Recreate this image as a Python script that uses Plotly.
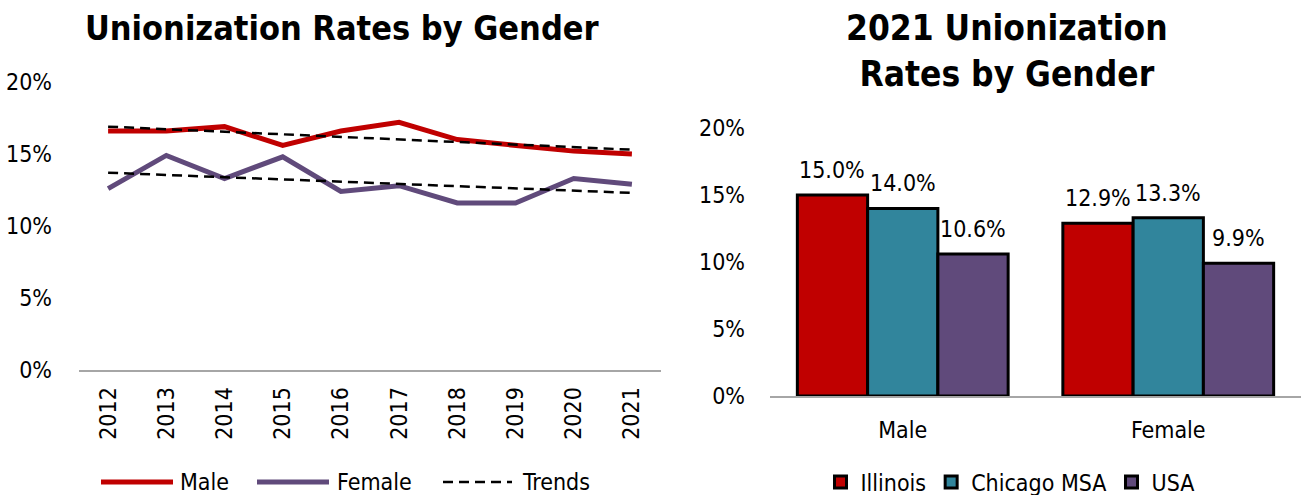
import plotly.graph_objects as go

# ---- data ----
years = ["2012", "2013", "2014", "2015", "2016", "2017", "2018", "2019", "2020", "2021"]
male_rate = [16.6, 16.6, 16.9, 15.6, 16.6, 17.2, 16.0, 15.6, 15.2, 15.0]
female_rate = [12.6, 14.9, 13.3, 14.8, 12.4, 12.8, 11.6, 11.6, 13.3, 12.9]
trend_years = ["2012", "2021"]
male_trend = [16.9, 15.3]
female_trend = [13.7, 12.3]

genders = ["Male", "Female"]
illinois = [15.0, 12.9]
chicago = [14.0, 13.3]
usa = [10.6, 9.9]

y_ticks = [0, 5, 10, 15, 20]
y_tick_text = ["0%", "5%", "10%", "15%", "20%"]

# ---- style ----
FONT = "Tahoma, 'DejaVu Sans Condensed', 'DejaVu Sans', sans-serif"
RED = "#C00000"
PURPLE = "#604A7B"
TEAL = "#31859C"
W, H = 1301, 495
TICK_SIZE = 23
BARGAP = 0.206
TREND_DASH = "10px,6px"
TREND_W = 2.5


def px_x(p):
    return p / W


def px_y(p):
    return 1 - p / H


fig = go.Figure()

fig.add_trace(go.Scatter(x=years, y=male_rate, mode="lines", name="Male",
                         line=dict(color=RED, width=5), showlegend=False,
                         xaxis="x", yaxis="y"))
fig.add_trace(go.Scatter(x=years, y=female_rate, mode="lines", name="Female",
                         line=dict(color=PURPLE, width=5), showlegend=False,
                         xaxis="x", yaxis="y"))
fig.add_trace(go.Scatter(x=trend_years, y=male_trend, mode="lines", name="Trends",
                         line=dict(color="black", width=TREND_W, dash=TREND_DASH), showlegend=False,
                         xaxis="x", yaxis="y"))
fig.add_trace(go.Scatter(x=trend_years, y=female_trend, mode="lines", name="Trends",
                         line=dict(color="black", width=TREND_W, dash=TREND_DASH), showlegend=False,
                         xaxis="x", yaxis="y"))

bar_series = [("Illinois", illinois, RED), ("Chicago MSA", chicago, TEAL), ("USA", usa, PURPLE)]
annotations = []
n_series = len(bar_series)
bar_w = (1 - BARGAP) / n_series
for k, (name, vals, col) in enumerate(bar_series):
    fig.add_trace(go.Bar(x=genders, y=vals, name=name,
                         marker=dict(color=col, line=dict(color="black", width=3)),
                         legend="legend2", xaxis="x2", yaxis="y2"))
    offset = (k - (n_series - 1) / 2) * bar_w
    for i, v in enumerate(vals):
        annotations.append(dict(text=f"{v:.1f}%", x=i + offset, y=v, xref="x2", yref="y2",
                                xanchor="center", yanchor="bottom", yshift=10, showarrow=False,
                                font=dict(size=TICK_SIZE, family=FONT, color="black")))

# titles
annotations += [
    dict(text="<b>Unionization Rates by Gender</b>", x=px_x(343), y=px_y(28), xref="paper", yref="paper",
         xanchor="center", yanchor="middle", showarrow=False, font=dict(size=34, family=FONT)),
    dict(text="<b>2021 Unionization<br>Rates by Gender</b>", x=px_x(1007), y=px_y(51), xref="paper",
         yref="paper", xanchor="center", yanchor="middle", showarrow=False, font=dict(size=35, family=FONT)),
]

# left legend (line samples + labels)
legend_items = [("Male", RED, 5, None, 101, 173, 178),
                ("Female", PURPLE, 5, None, 257, 329, 335),
                ("Trends", "black", TREND_W, TREND_DASH, 443, 512, 520)]
shapes = []
LEG_Y = px_y(482)
for label, col, lw, dash, x0, x1, tx in legend_items:
    ln = dict(color=col, width=lw)
    if dash:
        ln["dash"] = dash
    shapes.append(dict(type="line", xref="paper", yref="paper", x0=px_x(x0), x1=px_x(x1),
                       y0=LEG_Y, y1=LEG_Y, line=ln, layer="above"))
    annotations.append(dict(text=label, x=px_x(tx), y=LEG_Y, xref="paper", yref="paper",
                            xanchor="left", yanchor="middle", showarrow=False,
                            font=dict(size=TICK_SIZE, family=FONT, color="black")))

axis_common = dict(showgrid=False, zeroline=False, automargin=False,
                   tickfont=dict(size=TICK_SIZE, color="black", family=FONT))

fig.update_layout(
    width=W, height=H,
    margin=dict(l=0, r=0, t=0, b=0, autoexpand=False),
    paper_bgcolor="white", plot_bgcolor="white",
    font=dict(family=FONT, color="black"),
    barmode="group", bargap=BARGAP, bargroupgap=0,
    xaxis=dict(domain=[px_x(79), px_x(661)], anchor="y", tickangle=-90, range=[-0.5, 9.5],
               showline=True, linecolor="#A6A6A6", linewidth=2, ticks="",
               ticklabelstandoff=6, **axis_common),
    yaxis=dict(domain=[px_y(370), px_y(82)], anchor="x", range=[0, 20],
               tickvals=y_ticks, ticktext=y_tick_text, showline=False,
               ticklabelstandoff=26, **axis_common),
    xaxis2=dict(domain=[px_x(770), 1.0], anchor="y2",
                showline=True, linecolor="#A6A6A6", linewidth=2, ticks="",
                ticklabelstandoff=12, **axis_common),
    yaxis2=dict(domain=[px_y(396), px_y(128)], anchor="x2", range=[0, 20],
                tickvals=y_ticks, ticktext=y_tick_text, showline=False,
                ticklabelstandoff=24, **axis_common),
    showlegend=True,
    legend2=dict(orientation="h", x=px_x(1010), xanchor="center", y=px_y(482), yanchor="middle",
                 font=dict(size=TICK_SIZE, family=FONT), bgcolor="rgba(0,0,0,0)"),
    annotations=annotations,
    shapes=shapes,
)

fig.write_html("out.html", config={"displayModeBar": False},
               post_script="document.body.style.margin='0';document.body.style.padding='0';")
